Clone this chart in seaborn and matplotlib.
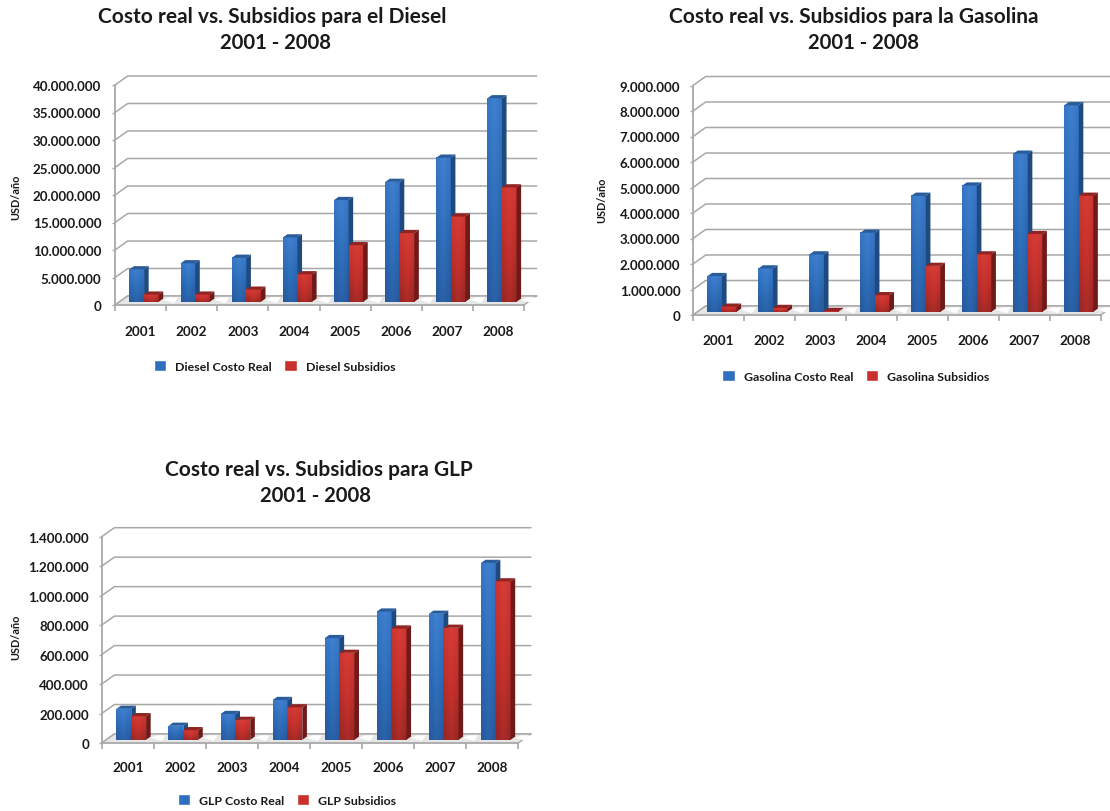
import matplotlib
matplotlib.use("Agg")
import matplotlib.pyplot as plt
import numpy as np
import pandas as pd
import seaborn as sns
from matplotlib.colors import LinearSegmentedColormap
from matplotlib.patches import Patch, Polygon
from matplotlib.ticker import FuncFormatter

W, H = 1110, 812

years = ["2001", "2002", "2003", "2004", "2005", "2006", "2007", "2008"]

diesel_real = [5900000, 7000000, 8000000, 11700000, 18500000, 21800000, 26200000, 37000000]
diesel_subsidy = [1300000, 1300000, 2200000, 5000000, 10300000, 12500000, 15500000, 20800000]
gasoline_real = [1400000, 1700000, 2250000, 3100000, 4550000, 4950000, 6200000, 8100000]
gasoline_subsidy = [200000, 150000, 30000, 650000, 1800000, 2250000, 3050000, 4550000]
lpg_real = [210000, 95000, 175000, 270000, 690000, 870000, 855000, 1200000]
lpg_subsidy = [160000, 65000, 135000, 220000, 590000, 755000, 760000, 1075000]

BLUE, RED = "#2f6fbd", "#c9302c"
sns.set_theme(style="white")
plt.rcParams["font.family"] = ["Lato", "DejaVu Sans"]
TEXT = "#1a1a1a"
GRID = "#a8a8a8"


def px_rect(left, top, right, bottom):
    return [left / W, 1 - bottom / H, (right - left) / W, (bottom - top) / H]


def ramp(light, mid, dark):
    return LinearSegmentedColormap.from_list("face", [light, mid, dark])


def draw_panel(spec):
    left, top, right, bottom = spec["box"]
    ymax, step = spec["ymax"], spec["step"]
    ax = fig.add_axes(px_rect(left, top, right, bottom))
    ax.patch.set_alpha(0)
    names = [spec["name"] + " Costo Real", spec["name"] + " Subsidios"]
    frame = pd.DataFrame({
        "year": years * 2,
        "value": list(spec["real"]) + list(spec["subsidy"]),
        "series": [names[0]] * 8 + [names[1]] * 8,
    })
    sns.barplot(data=frame, x="year", y="value", hue="series", palette=[BLUE, RED],
                width=0.57, gap=0, legend=False, ax=ax, zorder=4)
    bars = list(ax.patches)
    ax.set_xlim(-0.5, 7.5)
    ax.set_ylim(0, ymax)

    # pixel sizes expressed in data units, for the oblique depth of the drawing
    ux = 8 / (right - left)
    uy = ymax / (bottom - top)
    depth_x, depth_y = 12.7 * ux, 9 * uy
    back_right = 7.5 + depth_x

    # gridlines on the back wall with their oblique run to the front axis
    for v in np.arange(0, ymax + step / 2, step):
        ax.plot([-0.5, -0.5 + depth_x, back_right], [v, v + depth_y, v + depth_y],
                color=GRID, lw=1.1, clip_on=False, zorder=1, solid_joinstyle="miter")
    ax.add_patch(Polygon([(-0.5, 0), (-0.5 + depth_x, depth_y), (back_right, depth_y), (7.5, 0)],
                         closed=True, fc="#e6e6e6", ec="none", clip_on=False, zorder=1.5))
    ax.plot([-0.5, -0.5 + depth_x, back_right, 7.5], [0, depth_y, depth_y, 0],
            color=GRID, lw=1.0, clip_on=False, zorder=1.6)
    ax.plot([-0.5, 7.5], [0, 0], color=GRID, lw=1.3, clip_on=False, zorder=2)
    ax.plot([-0.5, -0.5], [0, ymax], color=GRID, lw=1.3, clip_on=False, zorder=2)

    shift_x, shift_y = 3.5 * ux, 3.2 * uy
    side_x, side_y = 4.6 * ux, 3.2 * uy
    faces = [(ramp("#3f80cf", "#2e6db9", "#27599c"), "#1f4a80", "#2a5c9c"),
             (ramp("#d63c36", "#c2302c", "#962724"), "#6f1a18", "#8f2422")]
    count = len(years)
    for i, bar in enumerate(bars):
        kind = 0 if i < count else 1
        x0 = bar.get_x() + shift_x
        w = bar.get_width()
        h = bar.get_height()
        y0 = shift_y
        bar.set_x(x0)
        bar.set_y(y0)
        z = 4 + kind
        bar.set_zorder(z)
        bar.set_edgecolor("none")
        cmap, side, cap = faces[kind]
        shade = np.linspace(0, 1, 40)[:, None] * 0.75 + np.abs(np.linspace(-1, 1, 12))[None, :] * 0.25
        ax.imshow(shade, cmap=cmap, vmin=0, vmax=1, aspect="auto", origin="upper",
                  extent=[x0, x0 + w, y0, y0 + h], zorder=z, clip_on=False)
        ax.add_patch(Polygon([(x0 + w, y0), (x0 + w + side_x, y0 + side_y),
                              (x0 + w + side_x, y0 + h + side_y), (x0 + w, y0 + h)],
                             closed=True, fc=side, ec="none", zorder=z, clip_on=False))
        ax.add_patch(Polygon([(x0, y0 + h), (x0 + side_x, y0 + h + side_y),
                              (x0 + w + side_x, y0 + h + side_y), (x0 + w, y0 + h)],
                             closed=True, fc=cap, ec="none", zorder=z, clip_on=False))
        # pale strip of floor running out from the foot of each subsidy column
        if kind == 1:
            ax.add_patch(Polygon([(x0 + w + side_x, y0 + side_y * 0.6),
                                  (x0 + w + side_x + 6 * ux, y0 + side_y * 1.4),
                                  (x0 + w + side_x + 15 * ux, y0 + side_y * 1.4),
                                  (x0 + w + side_x + 11 * ux, y0 - side_y * 0.4)],
                                 closed=True, fc="white", ec="none", zorder=1.8, clip_on=False))
    ax.set_xlim(-0.5, 7.5)
    ax.set_ylim(0, ymax)

    sns.despine(ax=ax, left=True, bottom=True)
    ax.set_yticks(np.arange(0, ymax + step / 2, step))
    ax.yaxis.set_major_formatter(FuncFormatter(lambda v, _: f"{int(round(v)):,}".replace(",", ".")))
    ax.set_xlabel("")
    ax.set_ylabel("")
    ax.tick_params(axis="y", length=2.5, width=1, color=GRID, pad=spec["ypad"], labelsize=9.6,
                   labelcolor=TEXT, left=True)
    ax.tick_params(axis="x", which="major", length=0, pad=spec["xpad"], labelsize=9.7,
                   labelcolor=TEXT, bottom=False)
    ax.set_xticks(np.arange(-0.5, 8), minor=True)
    ax.tick_params(axis="x", which="minor", length=4, width=1.2, color=GRID, bottom=True)
    for label in ax.get_xticklabels() + ax.get_yticklabels():
        label.set_fontweight("bold")

    lx, ly = spec["legend"]
    ax.legend(handles=[Patch(fc=BLUE, label=names[0]), Patch(fc=RED, label=names[1])],
              loc="center", bbox_to_anchor=(lx / W, 1 - ly / H), bbox_transform=fig.transFigure,
              ncol=2, frameon=False, prop={"size": 8.9, "weight": "bold"},
              handlelength=1.0, handleheight=1.0,
              handletextpad=0.75, columnspacing=1.0, labelcolor=TEXT)

    cx1, cx2, ty1, ty2 = spec["title"]
    fig.text(cx1 / W, 1 - ty1 / H, spec["heading"], ha="center", va="center",
             fontsize=15, fontweight="bold", color=TEXT)
    fig.text(cx2 / W, 1 - ty2 / H, "2001 - 2008", ha="center", va="center",
             fontsize=14.6, fontweight="bold", color=TEXT)
    lab_x, lab_y = spec["ylabel"]
    fig.text(lab_x / W, 1 - lab_y / H, "USD/año", rotation=90, ha="center", va="center",
             fontsize=7.8, fontweight="bold", color=TEXT)


fig = plt.figure(figsize=(W / 100, H / 100), dpi=100, facecolor="white")

panels = [
    dict(name="Diesel", real=diesel_real, subsidy=diesel_subsidy,
         box=(115, 86, 524, 306), ymax=40000000, step=5000000, ypad=7.5, xpad=14.2,
         heading="Costo real vs. Subsidios para el Diesel",
         title=(272.5, 275, 17, 43), legend=(274.5, 367), ylabel=(16, 197)),
    dict(name="Gasolina", real=gasoline_real, subsidy=gasoline_subsidy,
         box=(693, 86.5, 1100.7, 316), ymax=9000000, step=1000000, ypad=6.6, xpad=13.5,
         heading="Costo real vs. Subsidios para la Gasolina",
         title=(854, 863, 17, 43), legend=(856, 377), ylabel=(602, 200)),
    dict(name="GLP", real=lpg_real, subsidy=lpg_subsidy,
         box=(101.7, 537.7, 518.3, 744), ymax=1400000, step=200000, ypad=6.6, xpad=12.8,
         heading="Costo real vs. Subsidios para GLP",
         title=(319, 316, 470, 496), legend=(287, 801), ylabel=(16, 637)),
]
for spec in panels:
    draw_panel(spec)

fig.savefig("out.png", dpi=100, facecolor="white")
